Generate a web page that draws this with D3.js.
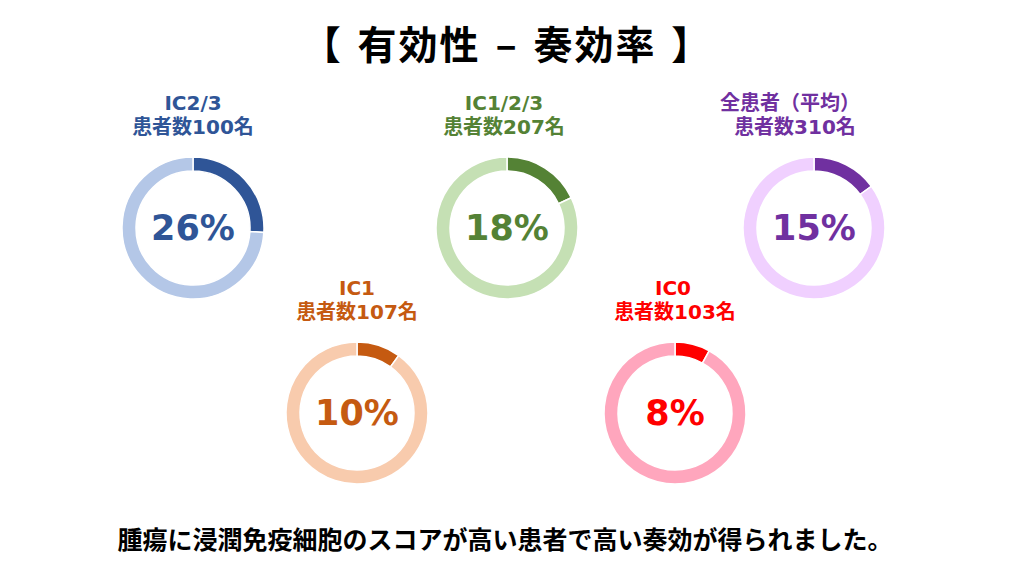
<!DOCTYPE html>
<html><head><meta charset="utf-8">
<script src="https://cdn.jsdelivr.net/npm/d3@7"></script>
<style>
html,body{margin:0;padding:0;background:#fff;}
svg{display:block;font-family:"Noto Sans CJK JP","Noto Sans",sans-serif;}
</style></head>
<body><svg id="c" width="1024" height="580"></svg>
<script>
const groups = ["IC2/3", "IC1/2/3", "全患者（平均）", "IC1", "IC0"];
const patientCounts = [100, 207, 310, 107, 103];
const responseRates = [26, 18, 15, 10, 8];
const darkColors = ["#2F5597", "#548235", "#7030A0", "#C55A11", "#FF0000"];
const lightColors = ["#B4C7E7", "#C5E0B4", "#F0D0FF", "#F8CBAD", "#FFA6BD"];
const titleText = "【 有効性 – 奏効率 】";
const footerText = "腫瘍に浸潤免疫細胞のスコアが高い患者で高い奏効が得られました。";

const W = 1024, H = 580;
const svg = d3.select("#c");

// layout: two rows (label offsets per donut)
const layout = [
  {cx: 193, cy: 228, dx1: 0, dx2: 0},
  {cx: 507, cy: 228, dx1: -3, dx2: -3},
  {cx: 814, cy: 228, dx1: -24, dx2: -19},
  {cx: 357, cy: 413, dx1: 0, dx2: 0},
  {cx: 675, cy: 413, dx1: -2, dx2: 0}
];
const rOuter = 71, rInner = 57;

svg.append("text").attr("x", 507).attr("y", 59)
  .attr("text-anchor", "middle").attr("font-size", 39).attr("font-weight", 700)
  .attr("letter-spacing", 2).attr("word-spacing", 4)
  .attr("fill", "#000").text(titleText);

const pie = d3.pie().sort(null).value(d => d);
const arc = d3.arc().innerRadius(rInner).outerRadius(rOuter);

groups.forEach((g, i) => {
  const {cx, cy, dx1, dx2} = layout[i];
  const G = svg.append("g").attr("transform", `translate(${cx},${cy})`);
  const arcs = pie([responseRates[i], 100 - responseRates[i]]);
  G.selectAll("path").data(arcs).join("path")
    .attr("d", arc)
    .attr("fill", (d, j) => j === 0 ? darkColors[i] : lightColors[i])
    .attr("stroke", "#fff").attr("stroke-width", 1.5);
  G.append("text").attr("x", 0).attr("y", 12)
    .attr("text-anchor", "middle").attr("font-size", 35).attr("font-weight", 700)
    .style("font-family", "'DejaVu Sans', sans-serif")
    .attr("fill", darkColors[i]).text(responseRates[i] + "%");
  const lbl = G.append("text").attr("text-anchor", "middle")
    .style("font-family", "'DejaVu Sans', 'Noto Sans CJK JP', sans-serif")
    .attr("font-size", 20).attr("font-weight", 700).attr("fill", darkColors[i]);
  lbl.append("tspan").attr("x", dx1).attr("y", -118).text(g);
  lbl.append("tspan").attr("x", dx2).attr("y", -94).text("患者数" + patientCounts[i] + "名");
});

svg.append("text").attr("x", 505).attr("y", 549)
  .attr("text-anchor", "middle").attr("font-size", 25).attr("font-weight", 700)
  .attr("fill", "#000").text(footerText);
</script></body></html>
